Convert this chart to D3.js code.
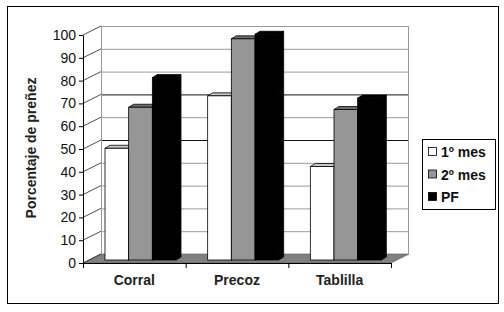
<!DOCTYPE html>
<html>
<head>
<meta charset="utf-8">
<script src="https://cdn.jsdelivr.net/npm/d3@7"></script>
<style>
	body { margin: 0; background: #fff; }
	svg { display: block; font-family: "Liberation Sans", Arial, sans-serif; }
</style>
</head>
<body>
<svg id="chart" width="504" height="312"></svg>
<script>
(function(){
	'use strict';

	// data
	var categories = ['Corral', 'Precoz', 'Tablilla'];
	var seriesNames = ['1º mes', '2º mes', 'PF'];
	var mes1 = [49, 72, 41];
	var mes2 = [67, 97, 66];
	var pf = [80, 99, 71];
	var yTicks = [0, 10, 20, 30, 40, 50, 60, 70, 80, 90, 100];

	var seriesValues = [mes1, mes2, pf];
	var fronts = ['#ffffff', '#969696', '#000000'];
	var tops = ['#c8c8c8', '#6e6e6e', '#000000'];
	var sides = ['#b4b4b4', '#646464', '#000000'];

	var svg = d3.select('#chart');

	// outer frame
	svg.append('rect')
		.attr('x', 7.5).attr('y', 6.5)
		.attr('width', 491).attr('height', 297)
		.attr('fill', 'none').attr('stroke', '#000');

	var x = d3.scaleBand().domain(categories).range([83, 391]);
	var y = d3.scaleLinear().domain([0, 100]).range([263, 35]);
	var x1 = d3.scaleBand().domain(seriesNames).range([16, 87]);

	var wall = {dx: 18, dy: -9};   // depth of the walls
	var shift = {dx: 6, dy: -3};   // plane of the bar fronts
	var bar = {dx: 5, dy: -3};     // depth of a bar

	var x0 = x.range()[0], xEnd = x.range()[1];
	var g = svg.append('g');

	// floor
	g.append('path')
		.attr('d', 'M' + x0 + ',' + y(0) + 'L' + xEnd + ',' + y(0) +
			'L' + (xEnd + wall.dx) + ',' + (y(0) + wall.dy) +
			'L' + (x0 + wall.dx) + ',' + (y(0) + wall.dy) + 'Z')
		.attr('fill', '#808080').attr('stroke', '#555').attr('stroke-width', 0.6);

	// back wall gridlines and left wall diagonals
	yTicks.forEach(function(t) {
		var yy = y(t) + wall.dy;
		var dark = (t === 50 || t === 70);
		if (t > 0) {
			g.append('line')
				.attr('x1', x0 + wall.dx).attr('x2', xEnd + wall.dx)
				.attr('y1', yy + 0.5).attr('y2', yy + 0.5)
				.attr('stroke', dark ? '#111' : '#9a9a9a').attr('stroke-width', 1);
		}
		g.append('line')
			.attr('x1', x0).attr('y1', y(t))
			.attr('x2', x0 + wall.dx).attr('y2', yy)
			.attr('stroke', '#222').attr('stroke-width', 0.8);
	});
	g.append('line')
		.attr('x1', x0 + wall.dx + 0.5).attr('x2', x0 + wall.dx + 0.5)
		.attr('y1', y(100) + wall.dy).attr('y2', y(0) + wall.dy)
		.attr('stroke', '#9a9a9a');
	g.append('line')
		.attr('x1', xEnd + wall.dx - 0.5).attr('x2', xEnd + wall.dx - 0.5)
		.attr('y1', y(100) + wall.dy).attr('y2', y(0) + wall.dy)
		.attr('stroke', '#9a9a9a');

	// bars
	categories.forEach(function(cat, ci) {
		seriesNames.forEach(function(s, si) {
			var v = seriesValues[si][ci];
			var bx = x(cat) + shift.dx + x1(s);
			var bw = x1.bandwidth();
			var by = y(v) + shift.dy;
			var b0 = y(0) + shift.dy;
			// side
			g.append('path')
				.attr('d', 'M' + (bx + bw) + ',' + by + 'L' + (bx + bw + bar.dx) + ',' + (by + bar.dy) +
					'L' + (bx + bw + bar.dx) + ',' + (b0 + bar.dy) + 'L' + (bx + bw) + ',' + b0 + 'Z')
				.attr('fill', sides[si]).attr('stroke', '#000').attr('stroke-width', 0.8);
			// top
			g.append('path')
				.attr('d', 'M' + bx + ',' + by + 'L' + (bx + bar.dx) + ',' + (by + bar.dy) +
					'L' + (bx + bw + bar.dx) + ',' + (by + bar.dy) + 'L' + (bx + bw) + ',' + by + 'Z')
				.attr('fill', tops[si]).attr('stroke', '#000').attr('stroke-width', 0.8);
			// front
			g.append('rect')
				.attr('x', bx).attr('y', by)
				.attr('width', bw).attr('height', b0 - by)
				.attr('fill', fronts[si]).attr('stroke', '#000').attr('stroke-width', 0.8);
		});
	});

	// y axis
	var yAxis = svg.append('g')
		.attr('transform', 'translate(' + x0 + ',0)')
		.call(d3.axisLeft(y).tickValues(yTicks).tickSize(4).tickSizeOuter(0));
	yAxis.selectAll('text')
		.attr('font-size', '14px').attr('font-family', '"Liberation Sans", Arial, sans-serif')
		.attr('fill', '#111');
	yAxis.selectAll('line, path').attr('stroke', '#000');

	// x axis: ticks at category borders, labels centred
	var xAxis = svg.append('g');
	xAxis.append('line')
		.attr('x1', x0).attr('x2', xEnd)
		.attr('y1', y(0) + 0.5).attr('y2', y(0) + 0.5)
		.attr('stroke', '#000');
	var edges = categories.map(function(c) { return x(c); }).concat([xEnd]);
	xAxis.selectAll('line.tick').data(edges).enter().append('line')
		.attr('class', 'tick')
		.attr('x1', function(d) { return d + 0.5; })
		.attr('x2', function(d) { return d + 0.5; })
		.attr('y1', y(0)).attr('y2', y(0) + 5)
		.attr('stroke', '#000');
	xAxis.selectAll('text').data(categories).enter().append('text')
		.attr('x', function(d) { return x(d) + x.bandwidth() / 2; })
		.attr('y', y(0) + 22)
		.attr('text-anchor', 'middle')
		.attr('font-size', '14px').attr('font-weight', 'bold')
		.attr('fill', '#222')
		.text(function(d) { return d; });

	// axis title
	svg.append('text')
		.attr('transform', 'translate(36,148) rotate(-90)')
		.attr('text-anchor', 'middle')
		.attr('font-size', '14px').attr('font-weight', 'bold')
		.attr('fill', '#222')
		.text('Porcentaje de preñez');

	// legend
	var legend = svg.append('g');
	legend.append('rect')
		.attr('x', 422.5).attr('y', 139.5)
		.attr('width', 73).attr('height', 70)
		.attr('fill', '#fff').attr('stroke', '#000');
	var items = legend.selectAll('g.item').data(seriesNames).enter().append('g')
		.attr('class', 'item')
		.attr('transform', function(d, i) { return 'translate(428,' + (157 + i * 22.5) + ')'; });
	items.append('rect')
		.attr('x', 0.5).attr('y', -9.5)
		.attr('width', 8).attr('height', 8)
		.attr('fill', function(d, i) { return fronts[i]; })
		.attr('stroke', '#000').attr('stroke-width', 0.8);
	items.append('text')
		.attr('x', 13).attr('y', 0)
		.attr('font-size', '14px').attr('font-weight', 'bold')
		.attr('fill', '#111')
		.text(function(d) { return d; });
})();
</script>
</body>
</html>
